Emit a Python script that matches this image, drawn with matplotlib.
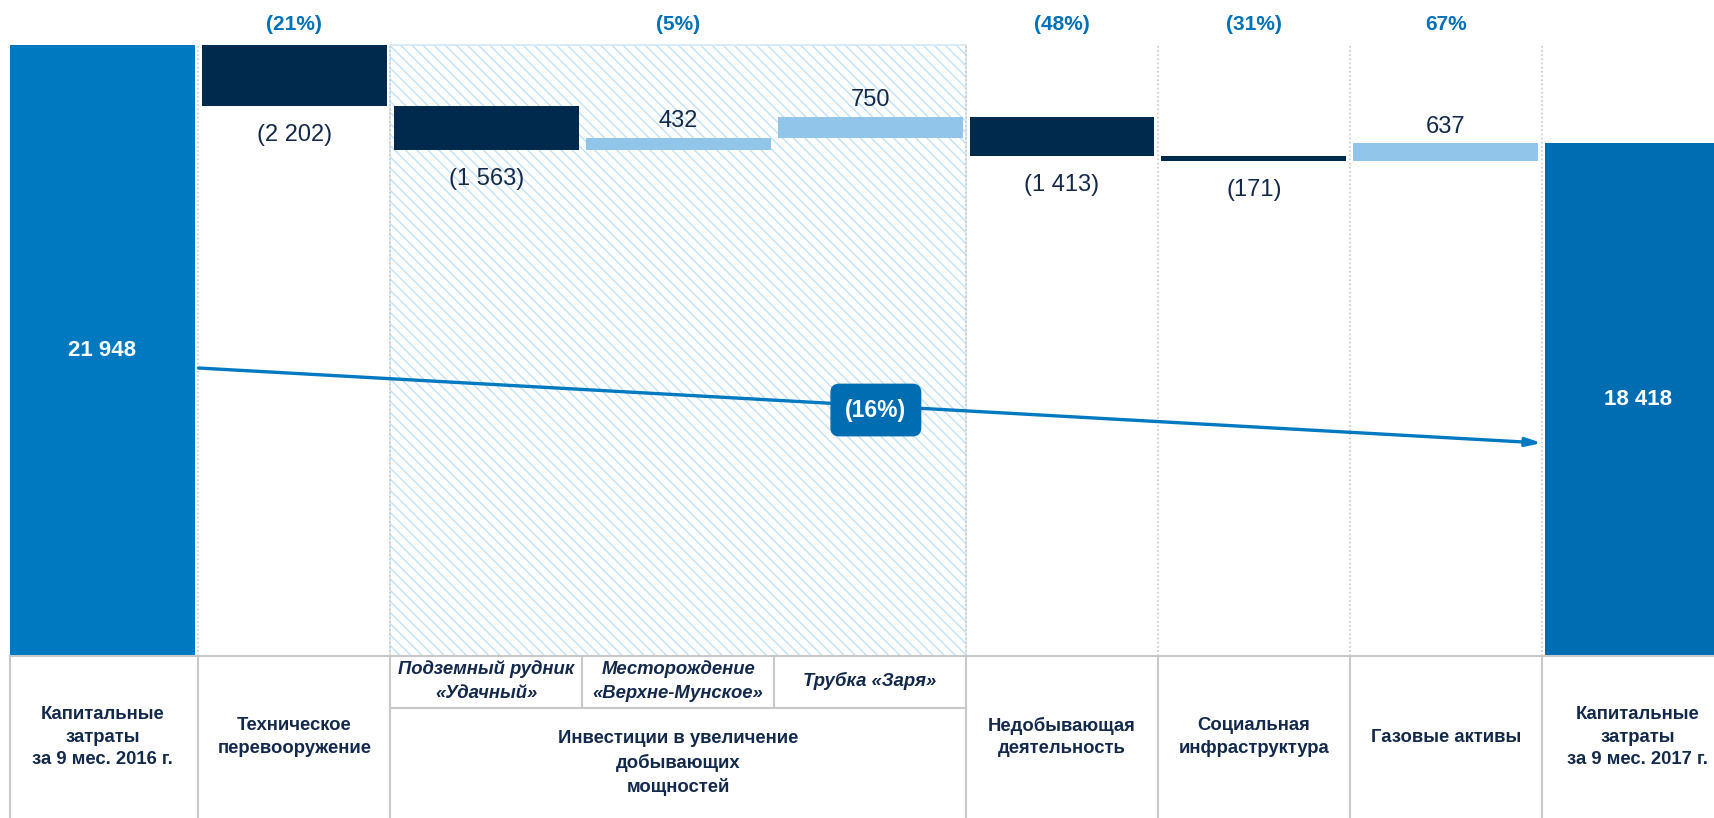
import matplotlib
matplotlib.use("Agg")
import matplotlib.pyplot as plt
from matplotlib.patches import Rectangle

plt.rcParams['font.family'] = ['Liberation Sans', 'DejaVu Sans']
plt.rcParams['hatch.linewidth'] = 1.0

# data
start_label = "Капитальные\nзатраты\nза 9 мес. 2016 г."
end_label = "Капитальные\nзатраты\nза 9 мес. 2017 г."
start_value = 21948
end_value = 18418
start_text = "21 948"
end_text = "18 418"
deltas = [-2202, -1563, 432, 750, -1413, -171, 637]
delta_text = ["(2 202)", "(1 563)", "432", "750", "(1 413)", "(171)", "637"]
sub_labels = ["Подземный рудник\n«Удачный»", "Месторождение\n«Верхне-Мунское»", "Трубка «Заря»"]
group_labels = ["Техническое\nперевооружение",
                "Инвестиции в увеличение\nдобывающих\nмощностей",
                "Недобывающая\nдеятельность",
                "Социальная\nинфраструктура",
                "Газовые активы"]
group_pct = ["(21%)", "(5%)", "(48%)", "(31%)", "67%"]
group_pos = [1, 3, 5, 6, 7]
total_change = "(16%)"

# colours
C_START = "#0079c1"
C_END = "#006db3"
C_NEG = "#00294e"
C_POS = "#92c5ea"
C_PCT = "#0070b8"
C_TXT = "#13294b"
C_GRID = "#c8c8c8"

W, H = 1714, 818
fig = plt.figure(figsize=(W / 100, H / 100), dpi=100)

# bar pitch in pixels -> x limits
pitch = 191.9
x0_px = 102.5
xlim = (-x0_px / pitch, (W - x0_px) / pitch)
bw = 0.964

chart_bottom_px = 656
chart_top_px = 45
ax = fig.add_axes([0, (H - chart_bottom_px) / H, 1, chart_bottom_px / H])
ymax = start_value * chart_bottom_px / (chart_bottom_px - chart_top_px)
ax.set_xlim(*xlim)
ax.set_ylim(0, ymax)
ax.axis('off')

# hatched group (investment projects)
ax.add_patch(Rectangle((1.5, 0), 3.0, start_value, facecolor="white",
                       edgecolor="#bfe2fa", hatch="\\\\\\", lw=0, zorder=0))
ax.add_patch(Rectangle((1.5, 0), 3.0, start_value, facecolor="none",
                       edgecolor="#d3e9fa", lw=1.2, zorder=0.5))

# dotted separators
for i in [0.5, 1.5, 4.5, 5.5, 6.5, 7.5]:
    ax.plot([i, i], [0, start_value], color=C_GRID, ls=(0, (1, 1.5)), lw=1.2, zorder=0.6)

# start / end bars
ax.bar(0, start_value, width=bw, color=C_START, zorder=2)
ax.bar(8, end_value, width=bw, color=C_END, zorder=2)
ax.text(0, start_value / 2, start_text, color="white", fontsize=16, fontweight="bold",
        ha="center", va="center", zorder=3)
ax.text(8, end_value / 2, end_text, color="white", fontsize=16, fontweight="bold",
        ha="center", va="center", zorder=3)

# delta bars
run = start_value
for i, (d, t) in enumerate(zip(deltas, delta_text)):
    x = i + 1
    new = run + d
    lo = min(run, new)
    ax.bar(x, abs(d), bottom=lo, width=bw, color=C_NEG if d < 0 else C_POS, zorder=2)
    if d < 0:
        ax.annotate(t, (x, lo), xytext=(0, -13), textcoords="offset points",
                    ha="center", va="top", fontsize=17, color=C_TXT)
    else:
        ax.annotate(t, (x, max(run, new)), xytext=(0, 4), textcoords="offset points",
                    ha="center", va="bottom", fontsize=17, color=C_TXT)
    run = new

# group percentages above the chart
pct_y = start_value * (chart_bottom_px - 24) / (chart_bottom_px - chart_top_px)
for p, t in zip(group_pos, group_pct):
    ax.text(p, pct_y, t, ha="center", va="center", fontsize=15,
            fontweight="bold", color=C_PCT, clip_on=False)

# overall change arrow
arrow_from = (0.5, 10345)
arrow_to = (7.50, 7651)
ax.annotate("", xy=arrow_to, xytext=arrow_from,
            arrowprops=dict(arrowstyle="-|>,head_length=0.9,head_width=0.25",
                            color=C_START, lw=2.4, shrinkA=0, shrinkB=0), zorder=4)
ax.text(4.03, 8836, total_change, ha="center", va="center", fontsize=16.5,
        fontweight="bold", color="white", zorder=5,
        bbox=dict(boxstyle="round,pad=0.62,rounding_size=0.35", fc=C_END, ec=C_END))

# bottom label table
tax = fig.add_axes([0, 0, 1, (H - chart_bottom_px) / H])
tax.set_xlim(*xlim)
tax.set_ylim(H, chart_bottom_px)
tax.axis('off')
lk = dict(color=C_GRID, lw=1.5, clip_on=False)
tax.plot([-0.48, xlim[1]], [chart_bottom_px, chart_bottom_px], **lk)
tax.plot([1.5, 4.5], [708, 708], **lk)
tax.plot([-0.48, -0.48], [chart_bottom_px, H], **lk)
for i in [0.5, 1.5, 4.5, 5.5, 6.5, 7.5]:
    tax.plot([i, i], [chart_bottom_px, H], **lk)
for i in [2.5, 3.5]:
    tax.plot([i, i], [chart_bottom_px, 708], **lk)

mid = (chart_bottom_px + H) / 2
lab = dict(ha="center", va="center", fontsize=13.3, fontweight="bold", color=C_TXT,
           linespacing=1.45)
tax.text(0, mid, start_label, **lab)
tax.text(8, mid, end_label, **lab)
for p, t in zip(group_pos, group_labels):
    y = 763 if p == 3 else mid
    tax.text(p, y, t, **lab)
for i, t in enumerate(sub_labels):
    tax.text(2 + i, 681, t, ha="center", va="center", fontsize=13.3, fontweight="bold",
             style="italic", color=C_TXT, linespacing=1.5)

fig.savefig("out.png", dpi=100)
